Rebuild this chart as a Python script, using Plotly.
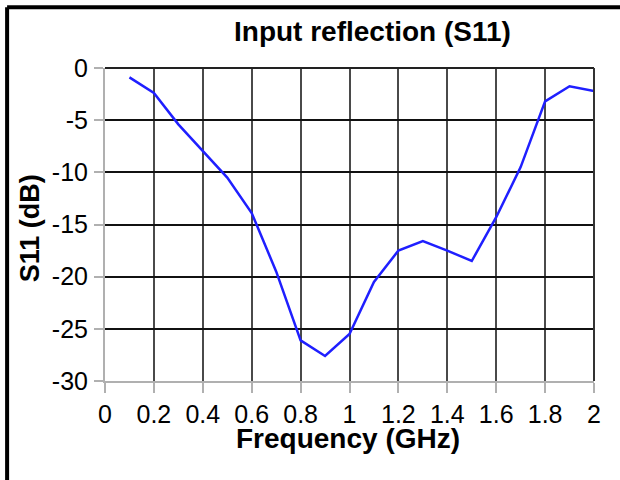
import plotly.graph_objects as go

freq_ghz = [0.1, 0.2, 0.3, 0.4, 0.5, 0.6, 0.7, 0.8, 0.9, 1.0,
            1.1, 1.2, 1.3, 1.4, 1.5, 1.6, 1.7, 1.8, 1.9, 2.0]
s11_db = [-0.9, -2.4, -5.4, -8.0, -10.5, -13.9, -19.5, -26.1, -27.6, -25.5,
          -20.5, -17.5, -16.6, -17.5, -18.5, -14.3, -9.5, -3.2, -1.75, -2.2]
x_ticks = [0, 0.2, 0.4, 0.6, 0.8, 1.0, 1.2, 1.4, 1.6, 1.8, 2.0]
x_tick_text = ["0", "0.2", "0.4", "0.6", "0.8", "1", "1.2", "1.4", "1.6", "1.8", "2"]
y_ticks = [0, -5, -10, -15, -20, -25, -30]
y_tick_text = ["0", "-5", "-10", "-15", "-20", "-25", "-30"]

W, H = 620, 480
L, R = 105, 594.5
T, B = 67.7, 381.0


def px(x):
    return (x - L) / (R - L)


def py(y):
    return (B - y) / (B - T)


font = "Liberation Sans, Arial, sans-serif"

fig = go.Figure()
fig.add_trace(go.Scatter(x=freq_ghz, y=s11_db, mode="lines",
                         line=dict(color="#1f1fff", width=2.5),
                         showlegend=False))

fig.update_layout(
    width=W, height=H,
    margin=dict(l=L, r=W - R, t=T, b=H - B),
    paper_bgcolor="white", plot_bgcolor="white",
    font=dict(family=font, size=25, color="black"),
    xaxis=dict(range=[0, 2], tickvals=x_ticks, ticktext=x_tick_text,
               showgrid=True, gridcolor="#4a4a4a", gridwidth=2,
               showline=True, linecolor="#b0b0b0", linewidth=2,
               ticks="outside", ticklen=10, tickcolor="#b0b0b0", tickwidth=2,
               zeroline=False, tickfont=dict(size=25)),
    yaxis=dict(range=[-30, 0], tickvals=y_ticks, ticktext=y_tick_text,
               showgrid=True, gridcolor="#111111", gridwidth=1.5,
               showline=True, linecolor="#b0b0b0", linewidth=2,
               ticks="outside", ticklen=9, tickcolor="#b0b0b0", tickwidth=2,
               zeroline=False, tickfont=dict(size=25), ticklabelstandoff=1),
    annotations=[
        dict(text="<b>Input reflection (S11)</b>", xref="paper", yref="paper",
             x=px(373), y=py(31), xanchor="center", yanchor="middle",
             showarrow=False, font=dict(size=28, color="black")),
        dict(text="<b>Frequency (GHz)</b>", xref="paper", yref="paper",
             x=px(348), y=py(439), xanchor="center", yanchor="middle",
             showarrow=False, font=dict(size=28, color="black")),
        dict(text="<b>S11 (dB)</b>", xref="paper", yref="paper",
             x=px(30), y=py(228), xanchor="center", yanchor="middle",
             textangle=-90, showarrow=False, font=dict(size=27, color="black")),
    ],
)

# top and right plot borders
fig.add_shape(type="line", xref="paper", yref="paper", x0=0, x1=1, y0=1, y1=1,
              line=dict(color="#222222", width=2))
fig.add_shape(type="line", xref="paper", yref="paper", x0=1, x1=1, y0=0, y1=1,
              line=dict(color="#333333", width=2))
# outer frame (top and left edges visible)
fig.add_shape(type="line", xref="paper", yref="paper",
              x0=px(7), x1=px(640), y0=py(7), y1=py(7),
              line=dict(color="black", width=4))
fig.add_shape(type="line", xref="paper", yref="paper",
              x0=px(7), x1=px(7), y0=py(7), y1=py(500),
              line=dict(color="black", width=4))

fig.write_html("out.html", config={"displayModeBar": False},
               post_script="document.body.style.margin='0';")
